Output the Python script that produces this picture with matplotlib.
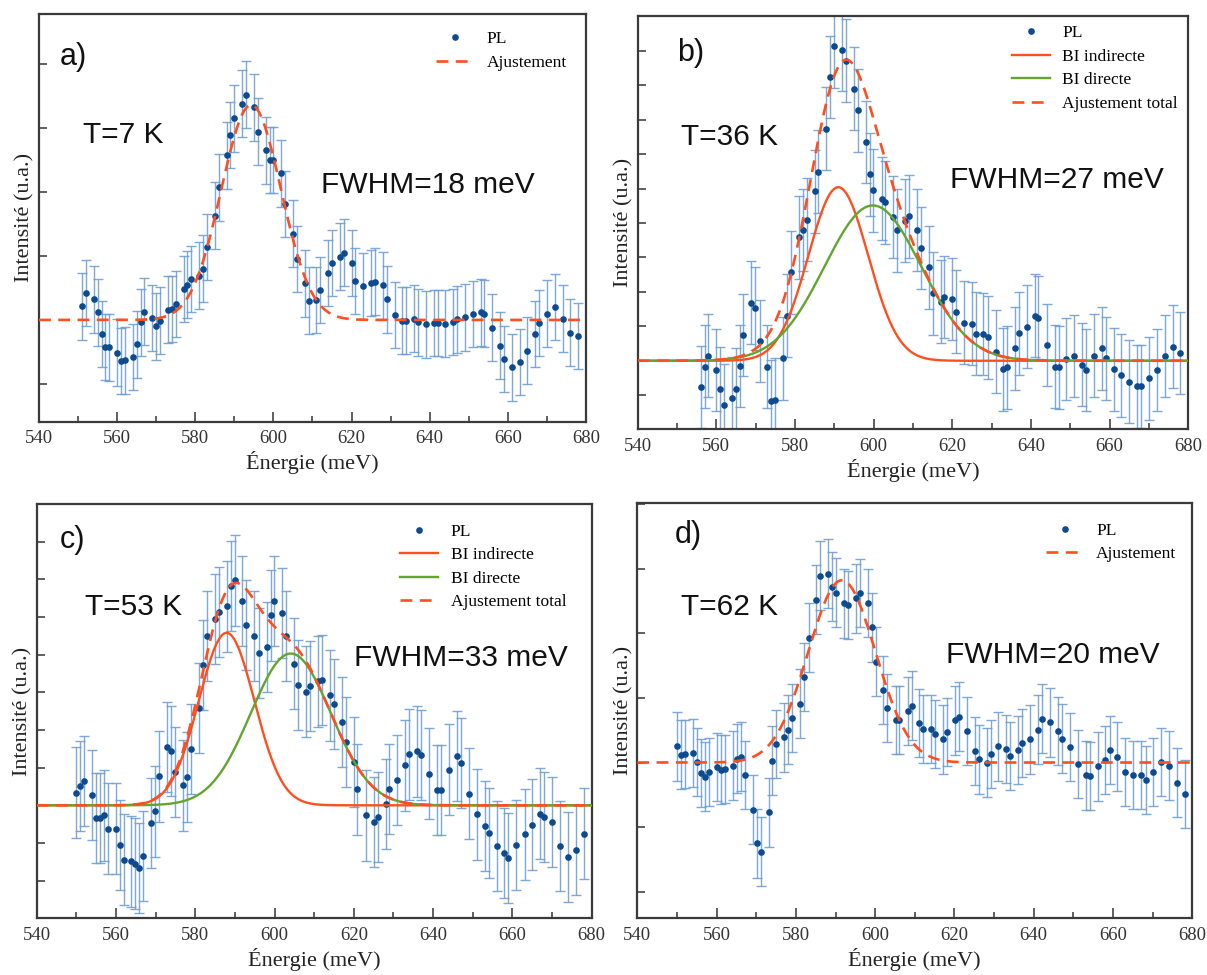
import numpy as np
import matplotlib
matplotlib.use("Agg")
import matplotlib.pyplot as plt
from matplotlib.ticker import MultipleLocator

plt.rcParams['font.family'] = ['Liberation Serif', 'DejaVu Serif']

# ---- PL spectra (intensity in arbitrary units, baseline = 0) ----
e_a = [551, 552, 554, 555, 556, 557, 558, 560, 561, 562, 564, 565, 566, 567, 569, 570, 571,
       573, 574, 575, 577, 578, 579, 581, 582, 583, 585, 586, 588, 589, 590, 592, 593, 595,
       596, 598, 599, 600, 602, 603, 605, 606, 608, 609, 611, 612, 614, 615, 617, 618, 620,
       621, 623, 625, 626, 628, 629, 631, 633, 634, 636, 637, 639, 641, 642, 644, 646, 647,
       649, 651, 653, 654, 656, 658, 659, 661, 663, 665, 667, 668, 670, 672, 674, 676, 678]
i_a = [0.21, 0.42, 0.32, 0.12, -0.22, -0.42, -0.43, -0.51, -0.64, -0.63, -0.58, -0.38, -0.04,
       0.13, 0.03, -0.10, -0.01, 0.16, 0.17, 0.25, 0.48, 0.55, 0.64, 0.69, 0.80, 1.14, 1.63,
       2.07, 2.57, 2.89, 3.15, 3.38, 3.52, 3.32, 2.94, 2.65, 2.50, 2.50, 2.29, 1.81, 1.35,
       0.95, 0.57, 0.30, 0.31, 0.47, 0.73, 0.89, 0.99, 1.05, 0.89, 0.61, 0.53, 0.58, 0.60,
       0.54, 0.32, 0.08, -0.01, -0.01, 0.02, -0.04, -0.07, -0.05, -0.05, -0.06, -0.03, 0.01,
       0.04, 0.09, 0.12, 0.10, -0.12, -0.40, -0.61, -0.74, -0.66, -0.48, -0.22, -0.05, 0.10,
       0.20, 0.02, -0.20, -0.25]

e_b = [556.0, 557.0, 558.0, 560.0, 561.0, 561.9, 564.0, 564.9, 565.9, 566.9,
       568.9, 569.9, 571.0, 573.0, 573.9, 574.9, 577.0, 578.0, 578.9, 580.9,
       582.0, 583.0, 585.0, 585.9, 588.0, 589.0, 590.0, 592.0, 592.9, 594.9,
       595.9, 598.0, 599.0, 599.9, 602.0, 603.0, 605.0, 606.0, 608.0, 609.0,
       611.0, 612.0, 614.0, 615.0, 617.0, 618.0, 620.0, 620.9, 623.0, 625.0,
       626.0, 627.9, 629.0, 631.0, 633.0, 634.0, 636.0, 637.0, 639.0, 641.0,
       641.9, 644.0, 646.0, 647.0, 648.9, 651.0, 653.0, 654.0, 655.9, 658.0,
       659.0, 661.0, 662.9, 665.0, 667.0, 668.0, 669.9, 672.0, 674.0, 676.0, 677.9]
i_b = [-0.76, -0.17, 0.15, -0.27, -0.81, -1.29, -1.08, -0.83, -0.15, 0.75,
       1.69, 1.52, 0.57, -0.17, -1.17, -1.13, 0.07, 1.31, 2.57, 3.58,
       3.80, 4.10, 4.92, 5.49, 6.74, 8.24, 9.13, 9.03, 8.71, 7.90,
       7.27, 6.35, 5.41, 4.95, 4.71, 4.60, 4.17, 3.79, 4.07, 4.19,
       3.80, 3.27, 2.71, 1.96, 1.72, 1.85, 1.79, 1.43, 1.11, 1.08,
       0.79, 0.78, 0.68, 0.26, -0.25, -0.19, 0.36, 0.80, 0.99, 1.31,
       1.25, 0.46, -0.17, -0.19, 0.05, 0.14, -0.11, -0.27, 0.15, 0.36,
       0.07, -0.25, -0.42, -0.61, -0.74, -0.74, -0.51, -0.27, 0.14, 0.41, 0.23]

e_c = [550.0, 550.9, 551.9, 553.9, 554.9, 556.0, 556.9, 557.9, 559.9, 560.9,
       561.9, 563.9, 564.8, 565.9, 566.9, 568.9, 569.9, 570.8, 572.9, 573.9,
       574.9, 576.9, 577.9, 578.9, 580.9, 581.9, 582.9, 584.9, 585.9, 587.9,
       588.9, 589.9, 591.9, 592.9, 594.9, 596.0, 598.0, 599.0, 599.9, 602.0,
       602.9, 605.0, 605.9, 608.0, 608.9, 611.0, 611.9, 614.0, 614.9, 617.0,
       617.9, 620.0, 620.9, 623.0, 625.0, 626.0, 628.0, 628.9, 631.0, 633.0,
       634.0, 636.0, 637.0, 639.0, 640.9, 642.0, 644.0, 645.9, 647.0, 649.1,
       651.0, 653.0, 654.0, 656.0, 658.0, 659.0, 661.0, 663.1, 665.0, 667.0,
       668.0, 670.0, 672.1, 674.0, 676.0, 678.1]
i_c = [0.34, 0.51, 0.65, 0.27, -0.33, -0.33, -0.27, -0.62, -0.62, -1.06,
       -1.44, -1.49, -1.55, -1.66, -1.35, -0.47, -0.16, 0.77, 1.55, 1.44,
       0.88, 0.53, 0.75, 1.50, 2.58, 3.72, 4.49, 4.95, 5.13, 5.28,
       5.83, 5.97, 5.42, 4.78, 4.49, 4.04, 4.21, 5.04, 5.42, 5.11,
       4.49, 3.76, 3.19, 3.02, 3.16, 3.29, 3.32, 2.92, 2.69, 2.21,
       1.68, 1.15, 0.42, -0.27, -0.44, -0.31, 0.04, 0.44, 0.68, 1.06,
       1.35, 1.43, 1.33, 0.84, 0.40, 0.40, 0.95, 1.31, 1.12, 0.31,
       -0.24, -0.55, -0.73, -1.08, -1.26, -1.40, -1.06, -0.77, -0.51, -0.22,
       -0.31, -0.44, -1.08, -1.37, -1.19, -0.75]

e_d = [550.1, 551.0, 552.1, 554.1, 555.0, 556.0, 557.0, 558.1, 560.0, 561.1,
       562.1, 564.1, 565.1, 566.1, 567.1, 569.1, 570.1, 571.1, 573.1, 574.1,
       575.1, 577.1, 578.1, 579.1, 581.1, 582.1, 583.2, 585.1, 586.1, 588.2,
       589.1, 590.1, 592.2, 593.1, 595.1, 596.2, 598.1, 599.1, 600.2, 602.1,
       603.1, 605.2, 606.1, 608.2, 609.2, 611.1, 612.1, 614.2, 615.1, 617.2,
       618.2, 620.1, 621.2, 623.1, 625.2, 626.2, 628.1, 629.1, 631.1, 633.1,
       634.1, 636.1, 637.1, 639.1, 641.1, 642.1, 644.1, 646.1, 647.1, 649.1,
       651.2, 653.1, 654.2, 656.2, 658.1, 659.2, 661.1, 663.1, 665.1, 667.1,
       668.2, 670.1, 672.2, 674.1, 676.1, 678.1]
i_d = [0.25, 0.12, 0.13, 0.15, 0.01, -0.16, -0.22, -0.15, -0.07, -0.11,
       -0.10, -0.05, 0.06, 0.09, -0.19, -0.73, -1.25, -1.38, -0.77, 0.03,
       0.29, 0.39, 0.51, 0.69, 0.91, 1.32, 1.93, 2.52, 2.89, 2.92,
       2.72, 2.63, 2.46, 2.44, 2.54, 2.62, 2.47, 2.09, 1.56, 1.12,
       0.84, 0.66, 0.66, 0.80, 0.88, 0.61, 0.52, 0.52, 0.44, 0.36,
       0.47, 0.65, 0.71, 0.49, 0.18, 0.05, 0.00, 0.13, 0.25, 0.21,
       0.10, 0.19, 0.30, 0.36, 0.51, 0.68, 0.62, 0.49, 0.37, 0.24,
       -0.02, -0.20, -0.21, -0.06, 0.04, 0.19, 0.09, -0.15, -0.19, -0.19,
       -0.27, -0.15, 0.01, -0.05, -0.31, -0.49]

# error bar half-heights per spectrum
err = [0.52, 1.2, 1.2, 0.53]

# gaussian fit parameters: (centre meV, amplitude, FWHM meV)
fit_a = (594.3, 3.36, 18.0)
fit_d = (591.6, 2.82, 20.0)
indirect_b = (591.0, 5.04, 17.9)
direct_b = (599.8, 4.51, 29.0)
indirect_c = (587.9, 4.58, 16.5)
direct_c = (604.1, 4.03, 23.8)

labels = ['a)', 'b)', 'c)', 'd)']
temps = ['T=7 K', 'T=36 K', 'T=53 K', 'T=62 K']
fwhm_txt = ['FWHM=18 meV', 'FWHM=27 meV', 'FWHM=33 meV', 'FWHM=20 meV']
ylims = [(-1.59, 4.78), (-1.99, 10.02), (-3.0, 8.0), (-2.41, 4.01)]

RED = '#ff4f1f'
GREEN = '#63a52f'
DOT = '#0d4a8e'
BAR = '#6f9fd3'

W, H = 1207, 975


def gauss(x, p):
    c, a, fwhm = p
    s = fwhm / (2 * np.sqrt(2 * np.log(2)))
    return a * np.exp(-(x - c) ** 2 / (2 * s ** 2))


def box(l, t, r, b):
    return [l / W, 1 - b / H, (r - l) / W, (b - t) / H]


fig = plt.figure(figsize=(W / 100, H / 100), dpi=100)
boxes = [box(39, 14, 586, 421.7), box(637.7, 15.7, 1188.3, 429.3),
         box(36.7, 504, 591.7, 918.3), box(637.3, 503.3, 1192.3, 918.3)]
axes = [fig.add_axes(b) for b in boxes]

xs = np.linspace(540, 680, 600)
spectra = [(e_a, i_a), (e_b, i_b), (e_c, i_c), (e_d, i_d)]

for k, ax in enumerate(axes):
    e, i = spectra[k]
    ax.errorbar(e, i, yerr=err[k], fmt='none', ecolor=BAR, elinewidth=1.0,
                capsize=3.5, capthick=1.0, alpha=0.9, zorder=2)
    ax.plot(e, i, 'o', color=DOT, ms=4.8, mec='none', label='PL', zorder=3)

    if k in (0, 3):
        p = fit_a if k == 0 else fit_d
        ax.plot(xs, gauss(xs, p), color=RED, lw=1.9, dashes=(4.5, 2.8),
                label='Ajustement', zorder=4)
        leg_pos = (0.726, 0.958) if k == 0 else (0.736, 0.953)
    else:
        ind = indirect_b if k == 1 else indirect_c
        dire = direct_b if k == 1 else direct_c
        ax.plot(xs, gauss(xs, ind), color=RED, lw=1.7, label='BI indirecte', zorder=4)
        ax.plot(xs, gauss(xs, dire), color=GREEN, lw=1.7, label='BI directe', zorder=4)
        ax.plot(xs, gauss(xs, ind) + gauss(xs, dire), color=RED, lw=1.9,
                dashes=(4.5, 2.8), label='Ajustement total', zorder=5)
        leg_pos = (0.68, 0.977) if k == 1 else (0.655, 0.952)

    ax.legend(loc='upper left', bbox_to_anchor=leg_pos, frameon=False,
              fontsize=12.5, handlelength=2.2, handletextpad=0.7,
              labelspacing=0.42, borderpad=0, borderaxespad=0, numpoints=1)

    ax.set_xlim(540, 680)
    ax.set_ylim(*ylims[k])
    ax.xaxis.set_major_locator(MultipleLocator(20))
    ax.xaxis.set_minor_locator(MultipleLocator(10))
    ax.yaxis.set_major_locator(MultipleLocator(1))
    ax.tick_params(axis='x', which='major', direction='in', length=7, width=1.2,
                   colors='#444444', labelcolor='#333333', labelsize=13.5, pad=6)
    ax.tick_params(axis='x', which='minor', direction='in', length=4, width=1.2,
                   colors='#444444')
    ax.tick_params(axis='y', which='major', direction='in', length=6, width=1.2,
                   colors='#444444', labelleft=False)
    for sp in ax.spines.values():
        sp.set_linewidth(1.6)
        sp.set_color('#3a3a3a')

    ax.set_xlabel('Énergie (meV)', fontsize=16, labelpad=3, color='#222222')
    ax.set_ylabel('Intensité (u.a.)', fontsize=16, labelpad=3, color='#222222')

# panel annotations (sans-serif)
sans = ['Liberation Sans', 'DejaVu Sans']
tag_pos = [(60, 57), (677, 53), (60, 540), (675, 535)]
temp_pos = [(83, 135), (681, 137), (85, 607), (681, 607)]
fwhm_pos = [(321, 185), (950, 180), (354, 658), (946, 655)]
for k in range(4):
    fig.text(tag_pos[k][0] / W, 1 - tag_pos[k][1] / H, labels[k], family=sans,
             fontsize=22, va='center', ha='left', color='#111111')
    fig.text(temp_pos[k][0] / W, 1 - temp_pos[k][1] / H, temps[k], family=sans,
             fontsize=21.5, va='center', ha='left', color='#111111')
    fig.text(fwhm_pos[k][0] / W, 1 - fwhm_pos[k][1] / H, fwhm_txt[k], family=sans,
             fontsize=21.5, va='center', ha='left', color='#111111')

fig.savefig('out.png', dpi=100)
